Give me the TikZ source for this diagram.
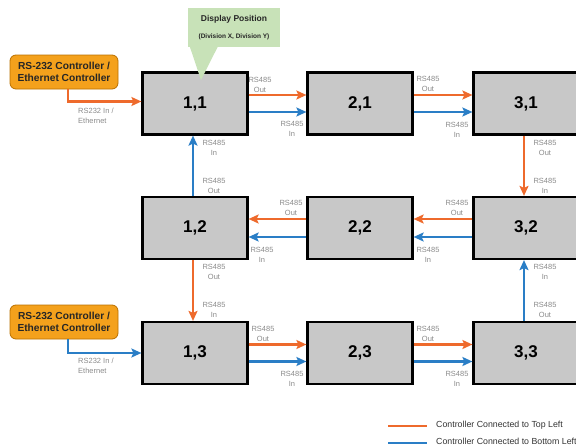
\documentclass[tikz,border=0pt]{standalone}
\usepackage{fontspec}
\setmainfont{Liberation Sans}
\usetikzlibrary{arrows.meta}
\definecolor{oline}{HTML}{EE6A2C}
\definecolor{bline}{HTML}{2A7EC6}
\definecolor{boxgray}{HTML}{C8C8C8}
\definecolor{ctrlfill}{HTML}{F4A11C}
\definecolor{ctrldraw}{HTML}{B97000}
\definecolor{cgreen}{HTML}{C8E2B8}
\definecolor{lblgray}{HTML}{8A8A8A}
\begin{document}
\begin{tikzpicture}[x=1pt,y=-1pt,
 disp/.style={draw=black, line width=2.2pt, fill=boxgray, minimum width=105pt, minimum height=62pt, inner sep=0pt, font=\fontsize{17}{20}\selectfont\bfseries},
 ctrl/.style={draw=ctrldraw, line width=0.8pt, fill=ctrlfill, rounded corners=6pt, minimum width=108pt, minimum height=34pt, inner sep=0pt, align=center, font=\fontsize{10.2}{12.5}\selectfont\bfseries, text=black!85},
 lbl/.style={text=lblgray, align=center, inner sep=0pt, font=\fontsize{7.5}{10}\selectfont},
 lgd/.style={text=black!80, anchor=west, inner sep=0pt, font=\fontsize{8.8}{10}\selectfont},
 oarr/.style={draw=oline, line width=2.2pt, -{Stealth[length=10pt,width=9pt,inset=2pt]}},
 barr/.style={draw=bline, line width=2.2pt, -{Stealth[length=10pt,width=9pt,inset=2pt]}},
 oleg/.style={draw=oline, line width=2.2pt},
 bleg/.style={draw=bline, line width=2.2pt},
]
\useasboundingbox (0,0) rectangle (576,447);
\clip (0,0) rectangle (576,447);

% display boxes
\node[disp] (a11) at (195,103.5) {1,1};
\node[disp] (a21) at (360,103.5) {2,1};
\node[disp] (a31) at (526,103.5) {3,1};
\node[disp] (a12) at (195,228) {1,2};
\node[disp] (a22) at (360,228) {2,2};
\node[disp] (a32) at (526,228) {3,2};
\node[disp] (a13) at (195,353) {1,3};
\node[disp] (a23) at (360,353) {2,3};
\node[disp] (a33) at (526,353) {3,3};

% controllers
\node[ctrl] (c1) at (64,72) {RS-232 Controller /\\Ethernet Controller};
\node[ctrl] (c2) at (64,322) {RS-232 Controller /\\Ethernet Controller};
\draw[oarr] ([xshift=4pt]c1.south) |- ([yshift=2pt]a11.west);
\draw[barr] ([xshift=4pt]c2.south) |- (a13.west);
\node[lbl, anchor=west, align=left] (lc1) at (78,116) {RS232 In /\\Ethernet};
\node[lbl, anchor=west, align=left] (lc2) at (78,366) {RS232 In /\\Ethernet};

% row 1
\draw[oarr] ([yshift=8.5pt]a11.east) -- ([yshift=8.5pt]a21.west);
\draw[barr] ([yshift=-8.5pt]a11.east) -- ([yshift=-8.5pt]a21.west);
\draw[oarr] ([yshift=8.5pt]a21.east) -- ([yshift=8.5pt]a31.west);
\draw[barr] ([yshift=-8.5pt]a21.east) -- ([yshift=-8.5pt]a31.west);
\node[lbl] (r1a) at (260,85) {RS485\\Out};
\node[lbl] (r1b) at (292,129) {RS485\\In};
\node[lbl] (r1c) at (428,84) {RS485\\Out};
\node[lbl] (r1d) at (457,130) {RS485\\In};

% row 2
\draw[oarr] ([yshift=9pt]a22.west) -- ([yshift=9pt]a12.east);
\draw[barr] ([yshift=-9pt]a22.west) -- ([yshift=-9pt]a12.east);
\draw[oarr] ([yshift=9pt]a32.west) -- ([yshift=9pt]a22.east);
\draw[barr] ([yshift=-9pt]a32.west) -- ([yshift=-9pt]a22.east);
\node[lbl] (r2a) at (291,208) {RS485\\Out};
\node[lbl] (r2b) at (262,255) {RS485\\In};
\node[lbl] (r2c) at (457,208) {RS485\\Out};
\node[lbl] (r2d) at (428,255) {RS485\\In};

% row 3
\draw[oarr] ([yshift=8.5pt]a13.east) -- ([yshift=8.5pt]a23.west);
\draw[barr] ([yshift=-8.5pt]a13.east) -- ([yshift=-8.5pt]a23.west);
\draw[oarr] ([yshift=8.5pt]a23.east) -- ([yshift=8.5pt]a33.west);
\draw[barr] ([yshift=-8.5pt]a23.east) -- ([yshift=-8.5pt]a33.west);
\node[lbl] (r3a) at (263,334) {RS485\\Out};
\node[lbl] (r3b) at (292,379) {RS485\\In};
\node[lbl] (r3c) at (428,334) {RS485\\Out};
\node[lbl] (r3d) at (457,379) {RS485\\In};

% verticals
\draw[oarr] ([xshift=-2pt]a31.south) -- ([xshift=-2pt]a32.north);
\draw[barr] ([xshift=-2pt]a33.north) -- ([xshift=-2pt]a32.south);
\draw[barr] ([xshift=-2pt]a12.north) -- ([xshift=-2pt]a11.south);
\draw[oarr] ([xshift=-2pt]a12.south) -- ([xshift=-2pt]a13.north);
\node[lbl] (v1) at (545,148) {RS485\\Out};
\node[lbl] (v2) at (545,186) {RS485\\In};
\node[lbl] (v3) at (545,272) {RS485\\In};
\node[lbl] (v4) at (545,310) {RS485\\Out};
\node[lbl] (v5) at (214,148) {RS485\\In};
\node[lbl] (v6) at (214,186) {RS485\\Out};
\node[lbl] (v7) at (214,272) {RS485\\Out};
\node[lbl] (v8) at (214,310) {RS485\\In};

% callout
\node[fill=cgreen, minimum width=92pt, minimum height=39pt, inner sep=0pt, align=center, text=black!85, font=\bfseries] (dp) at (234,27.5)
  {{\fontsize{8.5}{10}\selectfont Display Position}\\[5pt]{\fontsize{6.5}{8}\selectfont (Division X, Division Y)}};
\coordinate (tip) at (201,80);
\fill[cgreen] ([xshift=2pt,yshift=0.5pt]dp.south west) -- (tip) -- ([xshift=30pt,yshift=0.5pt]dp.south west) -- cycle;

% legend
\coordinate (lo1) at (388,426);
\coordinate (lo2) at (427,426);
\coordinate (lb1) at (388,443);
\coordinate (lb2) at (427,443);
\draw[oleg] (lo1) -- (lo2);
\draw[bleg] (lb1) -- (lb2);
\node[lgd] (lt1) at (436,425) {Controller Connected to Top Left};
\node[lgd] (lt2) at (436,441) {Controller Connected to Bottom Left};
\end{tikzpicture}
\end{document}
